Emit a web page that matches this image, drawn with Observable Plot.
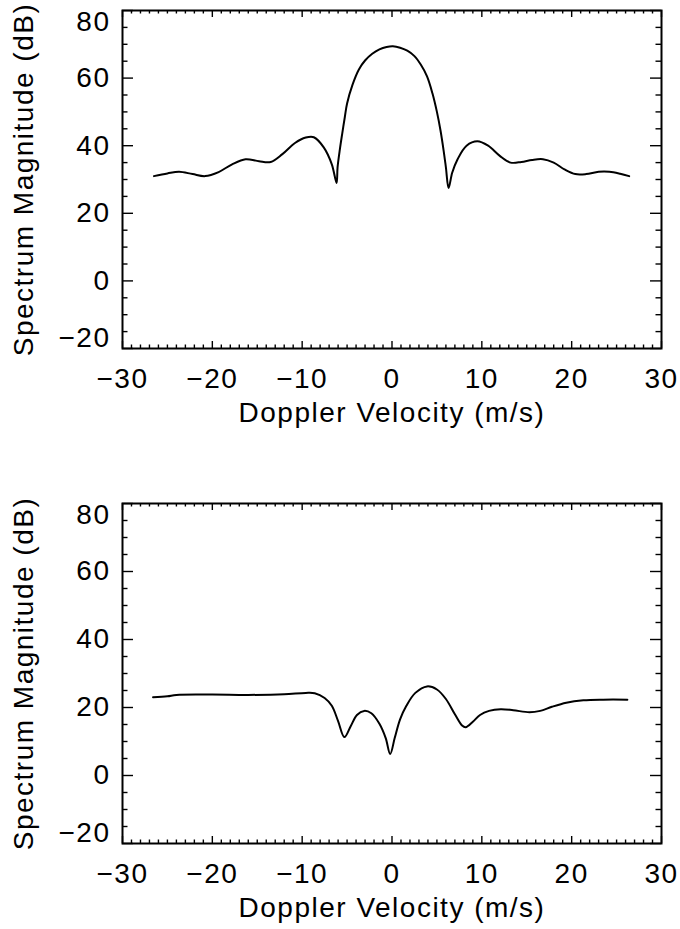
<!DOCTYPE html>
<html>
<head>
<meta charset="utf-8">
<script src="https://cdn.jsdelivr.net/npm/d3@7"></script>
<script src="https://cdn.jsdelivr.net/npm/@observablehq/plot@0.6"></script>
<style>
  html, body { margin: 0; padding: 0; background: #fff; }
  #chart svg { display: block; }
</style>
</head>
<body>
<div id="chart"></div>
<script>
// ---- data ----
const xLabel = "Doppler Velocity (m/s)";
const yLabel = "Spectrum Magnitude (dB)";
const xTicks = [-30, -20, -10, 0, 10, 20, 30];
const yTicks = [-20, 0, 20, 40, 60, 80];

// Panel 1 (top): spectrum with main lobe and side lobes
const topVelocity = [-26.5, -25.0, -23.7, -22.2, -20.8, -19.3, -17.8, -16.3, -14.8, -13.5, -12.2, -10.8, -9.6, -8.7, -7.6, -6.7, -6.17,
  -6.06, -5.8, -5.54, -5.25, -5.0, -4.4, -3.7, -3.0, -2.2, -1.4, -0.6, 0.1, 0.9, 1.7, 2.5, 3.2, 3.9, 4.5, 5.0, 5.4, 5.75, 6.0, 6.3,
  6.7, 7.3, 8.3, 9.5, 10.7, 12.0, 13.2, 14.4, 15.6, 16.8, 18.0, 19.2, 20.4, 21.6, 23.0, 24.2, 25.4, 26.4];
const topMagnitude = [31.0, 31.8, 32.3, 31.6, 31.0, 32.2, 34.5, 36.0, 35.4, 35.2, 37.5, 40.8, 42.4, 42.5, 39.5, 34.5, 29.0,
  33.6, 39.0, 43.6, 48.5, 52.5, 58.0, 62.5, 65.2, 67.2, 68.5, 69.2, 69.4, 69.0, 68.1, 66.5, 64.0, 60.5, 55.5, 50.0, 44.5, 38.5, 33.6, 27.5,
  32.0, 36.0, 40.0, 41.3, 40.0, 37.0, 35.0, 35.2, 35.8, 36.0, 35.0, 33.0, 31.6, 31.6, 32.3, 32.3, 31.7, 31.0];

// Panel 2 (bottom)
const bottomVelocity = [-26.6, -25.0, -24.0, -20.0, -16.0, -12.0, -9.6, -8.6, -7.5, -6.7, -6.0, -5.3, -4.6, -3.9, -3.1, -2.3, -1.4, -0.7, -0.2,
  0.3, 0.9, 1.6, 2.6, 3.9, 5.0, 6.0, 7.0, 7.8, 8.2, 9.0, 9.8, 10.8, 12.1, 13.5, 15.3, 16.5, 17.8, 19.4, 21.3, 23.5, 26.2];
const bottomMagnitude = [23.0, 23.3, 23.7, 23.8, 23.7, 23.9, 24.3, 24.2, 22.8, 20.5, 16.0, 11.3, 14.5, 17.8, 19.0, 18.3, 15.2, 11.0, 6.3,
  11.0, 16.5, 20.5, 24.3, 26.2, 25.3, 22.5, 18.0, 14.7, 14.2, 15.8, 17.8, 19.0, 19.5, 19.2, 18.6, 19.0, 20.2, 21.4, 22.1, 22.3, 22.3];

// ---- drawing ----
const W = 680, ML = 122, MR = 19;
const FONT = "'Liberation Sans', Arial, sans-serif";
const FS = 28;

function panel(vel, mag, height, mt, mb) {
  const data = vel.map((v, i) => ({v, m: mag[i]}));
  const pw = W - ML - MR, ph = height - mt - mb;
  const xMinor = d3.range(xTicks[0], xTicks[xTicks.length - 1] + 0.5, 1).filter(d => !xTicks.includes(d));
  const yMinor = d3.range(yTicks[0], yTicks[yTicks.length - 1] + 0.5, 5).filter(d => !yTicks.includes(d));
  const yInner = yTicks.slice(1, -1);
  const xMajLen = 7, xMinLen = 3.5, yMajLen = 11, yMinLen = 5.5;
  const tk = {stroke: "black", strokeWidth: 1.4};
  const lab = {tickSize: 0, label: null, fontSize: FS, fill: "black"};
  return Plot.plot({
    width: W, height,
    marginLeft: ML, marginRight: MR, marginTop: mt, marginBottom: mb,
    x: {domain: [-30, 30]},
    y: {domain: [-20, 80]},
    style: {fontFamily: FONT, background: "white", overflow: "visible", letterSpacing: "1.5px"},
    marks: [
      // inward ticks, bottom & top
      Plot.tickX(xTicks, {x: d => d, insetTop: ph - xMajLen, ...tk}),
      Plot.tickX(xMinor, {x: d => d, insetTop: ph - xMinLen, ...tk}),
      Plot.tickX(xTicks, {x: d => d, insetBottom: ph - xMajLen, ...tk}),
      Plot.tickX(xMinor, {x: d => d, insetBottom: ph - xMinLen, ...tk}),
      // inward ticks, left & right
      Plot.tickY(yTicks, {y: d => d, insetRight: pw - yMajLen, ...tk}),
      Plot.tickY(yMinor, {y: d => d, insetRight: pw - yMinLen, ...tk}),
      Plot.tickY(yTicks, {y: d => d, insetLeft: pw - yMajLen, ...tk}),
      Plot.tickY(yMinor, {y: d => d, insetLeft: pw - yMinLen, ...tk}),
      Plot.frame({stroke: "black", strokeWidth: 2}),
      Plot.axisX({ticks: xTicks, tickPadding: 20, ...lab}),
      Plot.axisY({ticks: yInner, tickPadding: 12, ...lab}),
      Plot.axisY({ticks: [yTicks[yTicks.length - 1]], tickPadding: 12, dy: 12, ...lab}),
      Plot.axisY({ticks: [yTicks[0]], tickPadding: 12, dy: -10, ...lab}),
      Plot.text([xLabel], {frameAnchor: "bottom", textAnchor: "middle", lineAnchor: "middle", dy: 65, fontSize: FS, fill: "black"}),
      Plot.text([yLabel], {frameAnchor: "left", textAnchor: "middle", lineAnchor: "middle", rotate: -90, dx: -98, fontSize: FS, fill: "black"}),
      Plot.line(data, {x: "v", y: "m", curve: "catmull-rom", stroke: "black", strokeWidth: 2})
    ]
  });
}

const el = document.getElementById("chart");
el.appendChild(panel(topVelocity, topMagnitude, 460, 10, 112));
el.appendChild(panel(bottomVelocity, bottomMagnitude, 469, 43, 86));
</script>
</body>
</html>
